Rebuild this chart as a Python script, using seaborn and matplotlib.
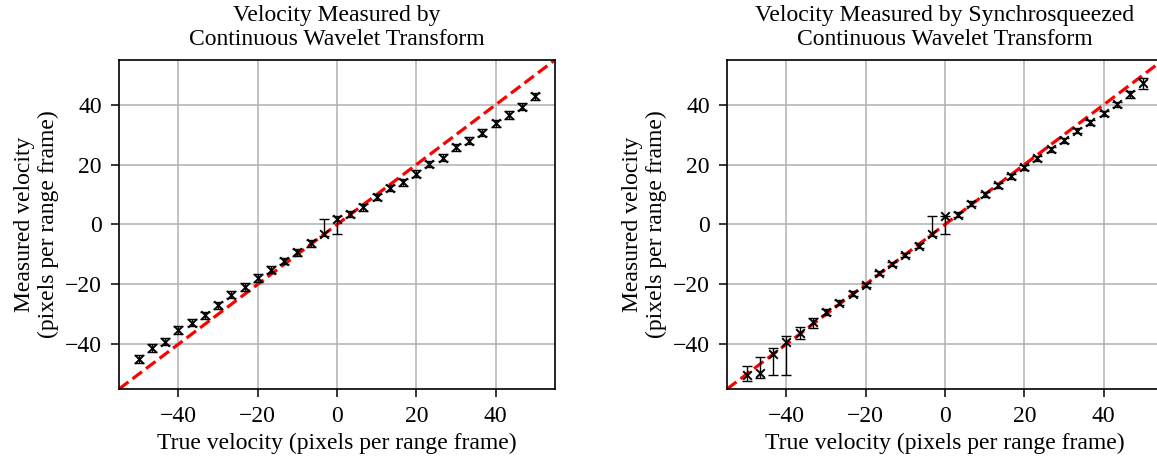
import numpy as np
import matplotlib
matplotlib.use("Agg")
import matplotlib.pyplot as plt
import seaborn as sns

# true velocities (pixels per range frame)
true_v = [-50, -46.67, -43.33, -40, -36.67, -33.33, -30, -26.67, -23.33, -20,
          -16.67, -13.33, -10, -6.67, -3.33, 0, 3.33, 6.67, 10, 13.33,
          16.67, 20, 23.33, 26.67, 30, 33.33, 36.67, 40, 43.33, 46.67, 50]

# CWT estimates
cwt_mean = [-44.9, -41.2, -39.2, -35.4, -32.8, -30.3, -27.0, -23.5, -20.8, -18.0,
            -15.1, -12.3, -9.3, -6.3, -3.1, 1.9, 3.4, 5.8, 9.2, 12.2,
            14.1, 17.0, 20.2, 22.4, 25.8, 28.0, 30.7, 33.8, 36.6, 39.4, 42.8]
cwt_low = [-46.3, -42.5, -40.3, -36.7, -34.0, -31.5, -28.2, -24.7, -22.1, -19.3,
           -16.3, -13.3, -10.4, -7.4, -3.7, -3.1, 2.4, 4.6, 8.1, 11.1,
           13.0, 15.9, 19.1, 21.2, 24.6, 26.8, 29.5, 32.6, 35.4, 38.3, 41.6]
cwt_high = [-43.5, -39.9, -38.1, -34.1, -31.6, -29.1, -25.8, -22.3, -19.5, -16.7,
            -13.9, -11.3, -8.2, -5.2, 1.9, 3.0, 4.4, 7.0, 10.3, 13.3,
            15.2, 18.1, 21.3, 23.6, 27.0, 29.2, 31.9, 35.0, 37.8, 40.5, 44.0]

# Synchrosqueezed CWT estimates
sst_mean = [-50.2, -49.6, -43.2, -39.2, -36.2, -32.5, -29.2, -26.1, -23.1, -20.2,
            -16.2, -13.2, -10.2, -7.1, -3.1, 3.0, 3.3, 7.0, 10.1, 13.1,
            16.1, 19.1, 22.1, 25.2, 28.2, 31.3, 34.2, 37.2, 40.2, 43.6, 47.3]
sst_low = [-52.4, -51.3, -50.2, -50.2, -38.2, -34.5, -30.1, -27.0, -23.9, -21.0,
           -17.0, -14.0, -11.0, -7.9, -3.7, -3.1, 2.4, 6.2, 9.3, 12.3,
           15.3, 18.3, 21.3, 24.4, 27.4, 30.5, 33.4, 36.4, 39.4, 42.3, 45.3]
sst_high = [-47.4, -44.3, -41.2, -37.3, -34.3, -31.4, -28.3, -25.2, -22.3, -19.4,
            -15.4, -12.4, -9.4, -6.3, 3.0, 3.0, 4.2, 7.8, 10.9, 13.9,
            16.9, 19.9, 22.9, 26.0, 29.0, 32.1, 35.0, 38.0, 41.0, 44.7, 49.0]

titles = ["Velocity Measured by\nContinuous Wavelet Transform",
          "Velocity Measured by Synchrosqueezed\nContinuous Wavelet Transform"]

sns.set_theme(style="ticks")
plt.rcParams['font.family'] = ['Liberation Serif', 'DejaVu Serif']
plt.rcParams['font.size'] = 17
plt.rcParams['axes.linewidth'] = 1.2
plt.rcParams['axes.edgecolor'] = 'black'
plt.rcParams['text.color'] = 'black'
plt.rcParams['axes.labelcolor'] = 'black'
plt.rcParams['xtick.color'] = 'black'
plt.rcParams['ytick.color'] = 'black'
plt.rcParams['xtick.labelcolor'] = 'black'
plt.rcParams['ytick.labelcolor'] = 'black'
plt.rcParams['axes.unicode_minus'] = True

W, H = 1157, 465
fig = plt.figure(figsize=(W / 100, H / 100), dpi=100)
ax1 = fig.add_axes([119 / W, (H - 389) / H, 436 / W, 329 / H])
ax2 = fig.add_axes([727 / W, (H - 389) / H, 436 / W, 329 / H])

series = [(cwt_mean, cwt_low, cwt_high), (sst_mean, sst_low, sst_high)]
for ax, (m, lo, hi), title in zip([ax1, ax2], series, titles):
    x = np.array(true_v)
    m = np.array(m)
    yerr = [m - np.array(lo), np.array(hi) - m]
    # ideal response y = x
    ax.axline((0, 0), slope=1, color='red', linestyle='--', linewidth=2.3, zorder=2.5)
    ax.errorbar(x, m, yerr=yerr, fmt='none', ecolor='black', elinewidth=1.0,
                capsize=3.5, capthick=1.0, zorder=3)
    sns.scatterplot(x=x, y=m, marker='x', color='black', s=38, linewidth=1.4,
                    ax=ax, zorder=4)
    ax.set_xlim(-55, 55)
    ax.set_ylim(-55, 55)
    ax.set_xticks([-40, -20, 0, 20, 40])
    ax.set_yticks([-40, -20, 0, 20, 40])
    ax.grid(True, color='#b0b0b0', linewidth=1.1)
    ax.set_axisbelow(True)
    ax.tick_params(labelsize=17, length=5.5, width=1.1, pad=7, direction='out',
                   colors='black')
    ax.set_xlabel("True velocity (pixels per range frame)", fontsize=17, color='black')
    ax.set_ylabel("Measured velocity\n(pixels per range frame)", fontsize=17, color='black')
    ax.set_title(title, fontsize=17, pad=11, color='black')
    for s in ax.spines.values():
        s.set_visible(True)
        s.set_color('black')

fig.savefig("out.png", dpi=100)
